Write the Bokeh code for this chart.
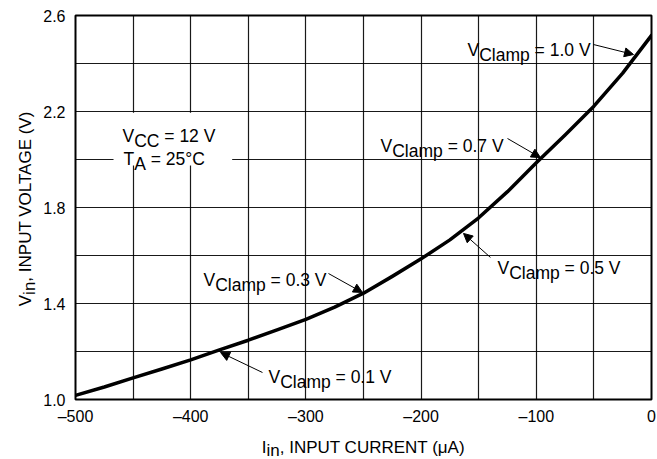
import math
from bokeh.plotting import figure
from bokeh.layouts import row, column
from bokeh.models import FixedTicker, Label, Arrow, NormalHead, BoxAnnotation, Range1d
from bokeh.embed import file_html
from bokeh.resources import INLINE

# ---- data ----
iin_ua = [-500, -475, -450, -425, -400, -375, -350, -325, -300, -275, -250,
          -225, -200, -175, -150, -125, -100, -75, -50, -25, 0]
vin_v = [1.017, 1.052, 1.09, 1.127, 1.165, 1.207, 1.247, 1.29, 1.334, 1.385, 1.443,
         1.513, 1.586, 1.665, 1.757, 1.866, 1.986, 2.102, 2.222, 2.36, 2.517]

x_ticks = [-500, -400, -300, -200, -100, 0]
x_tick_labels = ["\u2013500", "\u2013400", "\u2013300", "\u2013200", "\u2013100", "0"]
x_grid = [-500, -450, -400, -350, -300, -250, -200, -150, -100, -50, 0]
y_ticks = [1.0, 1.4, 1.8, 2.2, 2.6]
y_tick_labels = ["1.0", "1.4", "1.8", "2.2", "2.6"]
y_grid = [1.0, 1.2, 1.4, 1.6, 1.8, 2.0, 2.2, 2.4, 2.6]

clamp_values = ["1.0 V", "0.7 V", "0.5 V", "0.3 V", "0.1 V"]
# annotation layout (text anchor, arrow tail, arrow tip) in data units
clamp_text_pos = [(-159.7, 2.458), (-235.2, 2.058), (-133.7, 1.55), (-388.9, 1.496), (-332.5, 1.092)]
clamp_arrow_tail = [(-50.3, 2.479), (-125.0, 2.0875), (-139.8, 1.592), (-280.4, 1.525), (-337.7, 1.1125)]
clamp_arrow_tip = [(-15.6, 2.4375), (-96.4, 2.008), (-163.2, 1.692), (-250.9, 1.446), (-374.1, 1.196)]

FONT = "Liberation Sans"
W = {' ': 278, '=': 584, '.': 278, ',': 278, 'V': 667, 'C': 722, 'l': 222, 'a': 556,
     'm': 833, 'p': 556, 'T': 611, 'A': 667, '\u00b0': 400, 'I': 278, 'i': 222, 'n': 556,
     'N': 722, 'P': 667, 'U': 722, 'R': 722, 'E': 667, 'O': 778, 'L': 556, 'G': 778,
     '(': 333, ')': 333, '\u03bc': 576}


def tw(s, fs):
    return sum(W.get(c, 556) for c in s) * fs / 1000.0


# layout sizes (pixels)
TOTAL_W, TOTAL_H = 657, 459
YT_W = 38          # strip for the y-axis title
XT_H = 32          # strip for the x-axis title
TOP, FRAME_H = 15, 384
LEFT_MAIN, RIGHT_MAIN = 37, 6
MAIN_W = TOTAL_W - YT_W
MAIN_H = TOTAL_H - XT_H
BOTTOM_MAIN = MAIN_H - TOP - FRAME_H

p = figure(width=MAIN_W, height=MAIN_H, output_backend="svg", toolbar_location=None,
           x_range=Range1d(-500, 0), y_range=Range1d(1.0, 2.6), min_border=0,
           min_border_left=LEFT_MAIN, min_border_right=RIGHT_MAIN,
           min_border_top=TOP, min_border_bottom=BOTTOM_MAIN)
p.background_fill_color = "white"
p.border_fill_color = "white"
p.outline_line_color = "black"
p.outline_line_width = 2

p.xaxis.ticker = FixedTicker(ticks=x_ticks)
p.xaxis.major_label_overrides = dict(zip(x_ticks, x_tick_labels))
p.yaxis.ticker = FixedTicker(ticks=y_ticks)
p.yaxis.major_label_overrides = dict(zip(y_ticks, y_tick_labels))
p.xgrid.ticker = FixedTicker(ticks=x_grid)
p.ygrid.ticker = FixedTicker(ticks=y_grid)
p.grid.grid_line_color = "black"
p.grid.grid_line_width = 1.2
p.grid.grid_line_alpha = 0.9

for ax in (p.xaxis, p.yaxis):
    ax.axis_line_color = None
    ax.major_tick_line_color = None
    ax.minor_tick_line_color = None
    ax.major_tick_out = 0
    ax.major_tick_in = 0
    ax.minor_tick_out = 0
    ax.major_label_text_font = FONT
    ax.major_label_text_font_size = "16px"
    ax.major_label_text_color = "black"
p.xaxis.major_label_standoff = 8
p.yaxis.major_label_standoff = 10

p.line(iin_ua, vin_v, line_width=3.5, color="black", line_join="round", line_cap="round")

# white box behind conditions text
p.add_layout(BoxAnnotation(left=-467, right=-364, bottom=1.975, top=2.195,
                           fill_color="white", fill_alpha=1.0, line_color=None))


def pieces_of(main, sub, rest, fs, shift, center, gap):
    w1, w2, w3 = tw(main, fs), tw(sub, fs), tw(rest, fs)
    g = tw(" ", fs) if gap else 0.0
    start = -(w1 + w2 + g + w3) / 2 if center else 0.0
    return [(main, start, 0), (sub, start + w1, shift), (rest, start + w1 + w2 + g, 0)]


def sub_label(fig, x, y, main, sub, rest, fs=17.5, shift=5, angle=0.0,
              xo=0.0, yo=0.0, center=False, bg=False, gap=True):
    pcs = pieces_of(main, sub, rest, fs, shift, center, gap)
    passes = [True, False] if bg else [False]
    for is_bg in passes:
        for t, along, down in pcs:
            if angle == 0.0:
                dx, dy = along, -down
            else:
                dx, dy = down, along
            kw = dict(text_alpha=0.0, background_fill_color="white", padding=3) if is_bg else {}
            fig.add_layout(Label(x=x, y=y, text=t, x_offset=xo + dx, y_offset=yo + dy,
                                 angle=angle, text_font=FONT, text_font_size=f"{fs}px",
                                 text_color="black", text_baseline="alphabetic",
                                 text_align="left", **kw))


# conditions
sub_label(p, -459.2, 2.096, "V", "CC", "= 12 V")
sub_label(p, -458.3, 2.004, "T", "A", "= 25\u00b0C")

# clamp annotations
for val, (tx, ty) in zip(clamp_values, clamp_text_pos):
    sub_label(p, tx, ty, "V", "Clamp", "= " + val, bg=True)
for (ax0, ay0), (ax1, ay1) in zip(clamp_arrow_tail, clamp_arrow_tip):
    p.add_layout(Arrow(x_start=ax0, y_start=ay0, x_end=ax1, y_end=ay1, line_width=1,
                       line_color="black",
                       end=NormalHead(size=9, fill_color="black", line_color="black",
                                      line_width=1)))


def strip(width, height, x_range, y_range, **borders):
    f = figure(width=width, height=height, output_backend="svg", toolbar_location=None,
               x_range=x_range, y_range=y_range, x_axis_type=None, y_axis_type=None,
               min_border=0, **borders)
    f.outline_line_color = None
    f.background_fill_color = "white"
    f.border_fill_color = "white"
    return f


# y-axis title strip (shares the vertical scale of the plot)
yfig = strip(YT_W, MAIN_H, Range1d(0, YT_W), p.y_range,
             min_border_top=TOP, min_border_bottom=BOTTOM_MAIN)
sub_label(yfig, 25.0, 1.8, "V", "in", ", INPUT VOLTAGE (V)", fs=17, shift=4,
          angle=math.pi / 2, center=True, gap=False)

# x-axis title strip (shares the horizontal scale of the plot)
xfig = strip(TOTAL_W, XT_H, p.x_range, Range1d(0, XT_H),
             min_border_left=YT_W + LEFT_MAIN, min_border_right=RIGHT_MAIN)
sub_label(xfig, -250, 12, "I", "in", ", INPUT CURRENT (\u03bcA)", fs=17, shift=3,
          center=True, gap=False)

layout = column(row(yfig, p), xfig)
open("out.html", "w").write(file_html(layout, INLINE))
